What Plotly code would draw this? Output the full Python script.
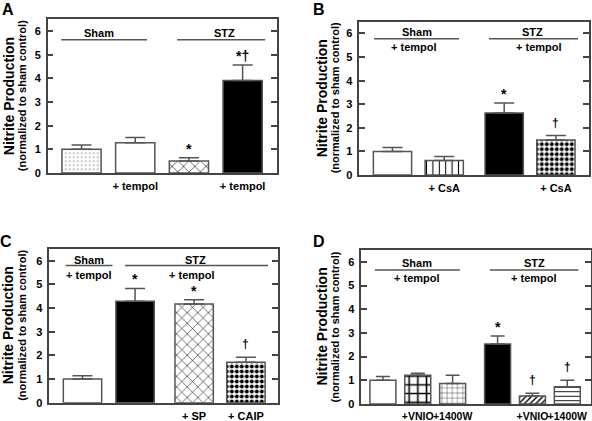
import plotly.graph_objects as go

# ---------------- data ----------------
a_labels = ["", "+ tempol", "", "+ tempol"]
a_values = [1.0, 1.28, 0.51, 3.91]
a_errors = [0.18, 0.22, 0.13, 0.66]
a_marks = ["", "", "*", "*†"]

b_labels = ["", "+ CsA", "", "+ CsA"]
b_values = [1.0, 0.62, 2.63, 1.48]
b_errors = [0.17, 0.16, 0.42, 0.19]
b_marks = ["", "", "*", "†"]

c_labels = ["", "", "+ SP", "+ CAIP"]
c_values = [1.0, 4.29, 4.17, 1.71]
c_errors = [0.14, 0.54, 0.18, 0.21]
c_marks = ["", "*", "*", "†"]

d_labels = ["", "+VNIO", "+1400W", "", "+VNIO", "+1400W"]
d_values = [1.0, 1.21, 0.86, 2.53, 0.34, 0.73]
d_errors = [0.16, 0.09, 0.35, 0.34, 0.11, 0.27]
d_marks = ["", "", "", "*", "†", "†"]

y_ticks = [0, 1, 2, 3, 4, 5, 6]
y_title = "Nitrite Production"
y_subtitle = "(normalized to sham control)"

# ---------------- styles ----------------
FONT = "Liberation Sans, Arial, Helvetica, sans-serif"
GRAY = "#555555"
W, H = 592, 421

WHITE = dict(color="white")
BLACK = dict(color="black")
def pat(shape, size, solidity, fg="black"):
    return dict(color="white", pattern=dict(shape=shape, size=size, solidity=solidity,
                                            fgcolor=fg, bgcolor="white", fillmode="replace"))
CHECK = pat(".", 5, 0.5)

panels = [
    dict(letter="A", values=a_values, errors=a_errors, labels=a_labels, marks=a_marks,
         pos=[0, 1, 2, 3], xr=[-0.63, 3.64], width=0.73, cap=10, tick_size=11,
         box=(47.7, 277, 19.3, 173),
         styles=[pat(".", 4, 0.12, "#777"), WHITE, pat("x", 8, 0.14), BLACK],
         groups=[dict(x0=-0.378, x1=1.22, y=5.63, top="Sham", ty=5.9, tx=0.33),
                 dict(x0=1.78, x1=3.42, y=5.63, top="STZ", ty=5.9, tx=2.66)],
         title_x=(9, 22)),
    dict(letter="B", values=b_values, errors=b_errors, labels=b_labels, marks=b_marks,
         pos=[0, 1, 2.16, 3.16], xr=[-0.642, 3.80], width=0.74, cap=10, tick_size=11,
         box=(359.3, 589, 21.7, 175),
         styles=[WHITE, pat("|", 6.4, 0.16), BLACK, CHECK],
         groups=[dict(x0=-0.358, x1=1.286, y=5.78, top="Sham", ty=6.05, tx=0.47,
                      sub="+ tempol", sy=5.41, sx=0.42),
                 dict(x0=1.866, x1=3.588, y=5.78, top="STZ", ty=6.05, tx=2.71,
                      sub="+ tempol", sy=5.41, sx=2.83)],
         title_x=(322, 335)),
    dict(letter="C", values=c_values, errors=c_errors, labels=c_labels, marks=c_marks,
         pos=[0, 1, 2.124, 3.11], xr=[-0.632, 3.72], width=0.73, cap=10, tick_size=11,
         box=(49.3, 278, 249, 402.7),
         styles=[WHITE, BLACK, pat("x", 7.5, 0.14), CHECK],
         groups=[dict(x0=-0.32, x1=0.57, y=5.8, top="Sham", ty=6.05, tx=0.124,
                      sub="+ tempol", sy=5.41, sx=0.13),
                 dict(x0=0.81, x1=3.53, y=5.8, top="STZ", ty=6.05, tx=2.156,
                      sub="+ tempol", sy=5.41, sx=2.08)],
         title_x=(7.5, 22)),
    dict(letter="D", values=d_values, errors=d_errors, labels=d_labels, marks=d_marks,
         pos=[0, 1, 2, 3.29, 4.29, 5.29], xr=[-0.62, 5.97], width=0.745, cap=7, tick_size=10.5,
         box=(361.3, 591, 250, 404),
         styles=[WHITE, pat("+", 8.7, 0.33), pat("+", 5.2, 0.16, "#333"), BLACK,
                 pat("/", 4, 0.35), pat("-", 4.5, 0.2)],
         groups=[dict(x0=-0.23, x1=2.21, y=5.66, top="Sham", ty=5.96, tx=0.99,
                      sub="+ tempol", sy=5.32, sx=0.97),
                 dict(x0=3.07, x1=5.61, y=5.66, top="STZ", ty=5.96, tx=4.34,
                      sub="+ tempol", sy=5.32, sx=4.34)],
         title_x=(321.5, 334.5)),
]

letter_pos = {"A": (8, 9.5), "B": (318.5, 9.5), "C": (6, 241), "D": (318.5, 241)}

fig = go.Figure()
annotations = []
shapes = []

for i, p in enumerate(panels):
    n = "" if i == 0 else str(i + 1)
    xa, ya = "x" + n, "y" + n
    for k, v in enumerate(p["values"]):
        st = p["styles"][k]
        marker = dict(color=st["color"], line=dict(color=GRAY, width=1.5))
        if "pattern" in st:
            marker["pattern"] = st["pattern"]
        fig.add_trace(go.Bar(
            x=[p["pos"][k]], y=[v], width=p["width"], marker=marker,
            error_y=dict(type="data", array=[p["errors"][k]], arrayminus=[0], symmetric=False,
                         color=GRAY, thickness=1.5, width=p["cap"]),
            xaxis=xa, yaxis=ya, showlegend=False, hoverinfo="skip"))
        mark = p["marks"][k]
        if mark:
            is_star = mark.startswith("*")
            annotations.append(dict(x=p["pos"][k], y=v + p["errors"][k], xref=xa, yref=ya,
                                    text="<b>%s</b>" % mark,
                                    showarrow=False, yanchor="bottom",
                                    yshift=-1 if is_star else 4,
                                    font=dict(family=FONT, size=14 if is_star else 12, color="#000000")))
    x0, x1, top, bot = p["box"]
    lay_x = dict(domain=[x0 / W, x1 / W], range=p["xr"], anchor=ya,
                 tickvals=p["pos"], ticktext=p["labels"], ticks="", tickangle=0,
                 tickfont=dict(family=FONT, size=p["tick_size"], color="black", weight="bold"),
                 showline=True, linecolor="#444", linewidth=1.5, mirror=True,
                 showgrid=False, zeroline=False, ticklabelstandoff=2, automargin=False)
    lay_y = dict(domain=[1 - bot / H, 1 - top / H], range=[0, 6.5], anchor=xa,
                 tickvals=y_ticks, ticks="inside", ticklen=6, tickwidth=1.5, tickcolor="#444",
                 tickfont=dict(family=FONT, size=11, color="black", weight="bold"),
                 showline=True, linecolor="#444", linewidth=1.5, mirror="ticks",
                 showgrid=False, zeroline=False, ticklabelstandoff=3, automargin=False)
    fig.update_layout(**{"xaxis" + n: lay_x, "yaxis" + n: lay_y})

    for g in p["groups"]:
        shapes.append(dict(type="line", xref=xa, yref=ya, x0=g["x0"], x1=g["x1"],
                           y0=g["y"], y1=g["y"], line=dict(color=GRAY, width=1.5)))
        annotations.append(dict(x=g["tx"], y=g["ty"], xref=xa, yref=ya, text="<b>%s</b>" % g["top"],
                                showarrow=False, font=dict(family=FONT, size=11, color="black")))
        if "sub" in g:
            annotations.append(dict(x=g["sx"], y=g["sy"], xref=xa, yref=ya,
                                    text="<b>%s</b>" % g["sub"], showarrow=False,
                                    font=dict(family=FONT, size=11, color="black")))

    cy = 1 - (top + bot) / 2 / H
    tx1, tx2 = p["title_x"]
    annotations.append(dict(x=tx1 / W, y=cy, xref="paper", yref="paper", text="<b>%s</b>" % y_title,
                            textangle=-90, showarrow=False, xanchor="center", yanchor="middle",
                            font=dict(family=FONT, size=14, color="black")))
    annotations.append(dict(x=tx2 / W, y=cy, xref="paper", yref="paper", text="<b>%s</b>" % y_subtitle,
                            textangle=-90, showarrow=False, xanchor="center", yanchor="middle",
                            font=dict(family=FONT, size=11, color="black")))
    lx, ly = letter_pos[p["letter"]]
    annotations.append(dict(x=lx / W, y=1 - ly / H, xref="paper", yref="paper",
                            text="<b>%s</b>" % p["letter"], showarrow=False,
                            xanchor="center", yanchor="middle",
                            font=dict(family=FONT, size=16, color="black")))

fig.update_layout(width=W, height=H, margin=dict(l=0, r=0, t=0, b=0, pad=0),
                  paper_bgcolor="white", plot_bgcolor="white", barmode="overlay",
                  annotations=annotations, shapes=shapes, showlegend=False)

fig.write_html("out.html", config={"displayModeBar": False},
               post_script="document.body.style.margin='0';document.body.style.overflow='hidden';")
